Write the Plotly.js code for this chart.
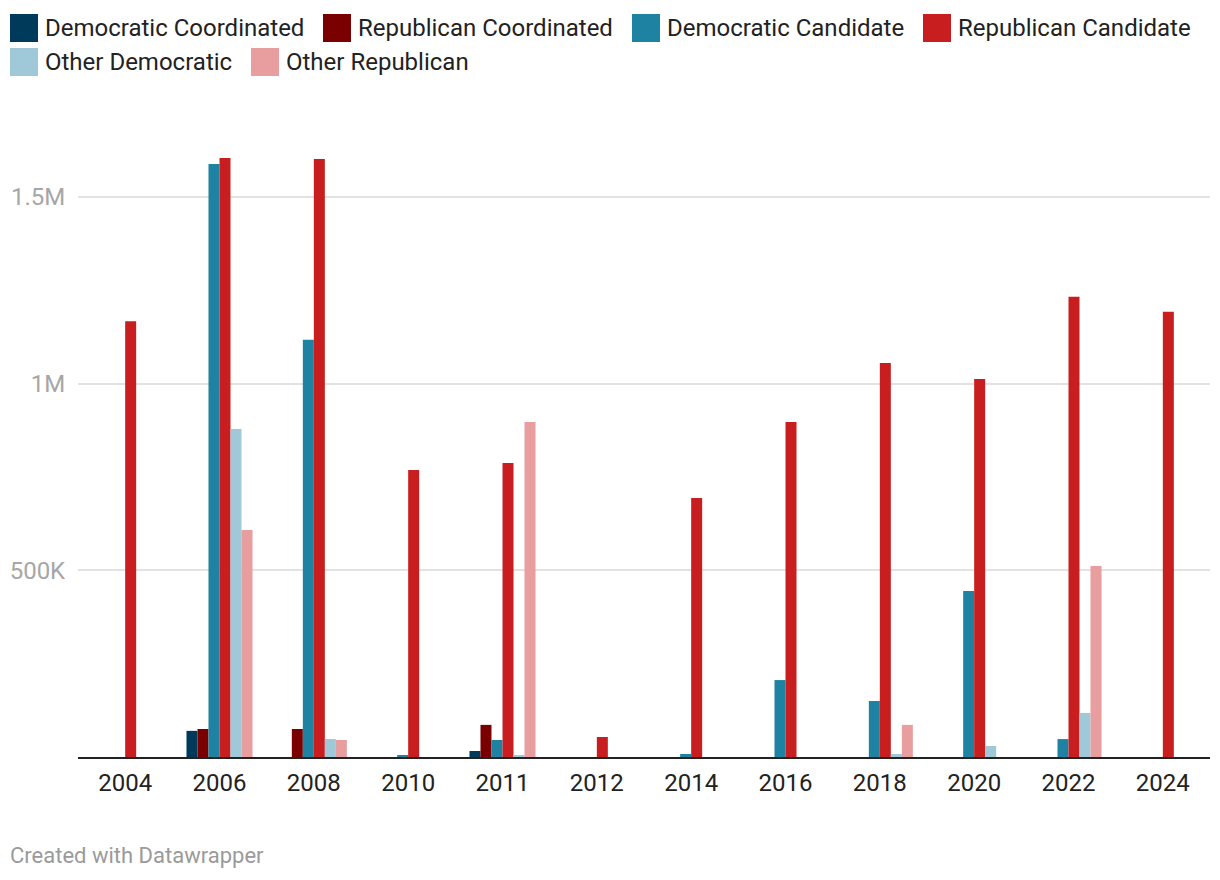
<!DOCTYPE html>
<html>
<head>
<meta charset="utf-8">
<script src="https://cdn.plot.ly/plotly-3.0.1.min.js"></script>
<style>
html,body{margin:0;padding:0;background:#fff;}
#chart{width:1220px;height:880px;}
</style>
</head>
<body>
<div id="chart"></div>
<script>
const years = ['2004','2006','2008','2010','2011','2012','2014','2016','2018','2020','2022','2024'];

const demCoordinated = [0, 70000, 0, 0, 16000, 0, 0, 0, 0, 0, 0, 0];
const repCoordinated = [0, 75000, 75000, 0, 86000, 0, 0, 0, 0, 0, 0, 0];
const demCandidate   = [0, 1588000, 1117000, 5000, 45500, 0, 8000, 206000, 150000, 444500, 48000, 0];
const repCandidate   = [1167000, 1604000, 1601000, 768500, 787000, 53600, 693600, 897000, 1055000, 1012000, 1232000, 1192000];
const otherDem       = [0, 878000, 48000, 0, 3000, 0, 0, 0, 8000, 29500, 118000, 0];
const otherRep       = [0, 608000, 45500, 0, 897000, 0, 0, 0, 86000, 0, 511500, 0];

const seriesNames = ['Democratic Coordinated','Republican Coordinated','Democratic Candidate','Republican Candidate','Other Democratic','Other Republican'];
const seriesColors = ['#003a5b','#7a0000','#1e83a3','#c91e1f','#9fc8d8','#e89d9e'];
const seriesValues = [demCoordinated, repCoordinated, demCandidate, repCandidate, otherDem, otherRep];

const yTickVals = [500000, 1000000, 1500000];
const yTickText = ['500K', '1M', '1.5M'];

const traces = seriesValues.map((vals, i) => ({
  type: 'bar',
  name: seriesNames[i],
  x: years,
  y: vals,
  marker: {color: seriesColors[i], line: {width: 0}},
  showlegend: false,
  hovertemplate: '%{x}: %{y:,}<extra>' + seriesNames[i] + '</extra>'
}));

// custom legend (swatches + text), positions in page pixels
const legendPos = [
  {x: 10, y: 14}, {x: 323, y: 14}, {x: 632, y: 14}, {x: 923, y: 14},
  {x: 10, y: 48}, {x: 251, y: 48}
];
const W = 1220, H = 880;
const PL = 78, PW = 1132, PB = 757, PH = 617;
const px = v => (v - PL) / PW;
const py = v => (PB - v) / PH;
const shapes = [];
const annotations = [];
legendPos.forEach((p, i) => {
  shapes.push({
    type: 'rect', xref: 'paper', yref: 'paper', layer: 'above',
    x0: px(p.x), x1: px(p.x + 28),
    y0: py(p.y + 28), y1: py(p.y),
    fillcolor: seriesColors[i], line: {width: 0}
  });
  annotations.push({
    xref: 'paper', yref: 'paper', showarrow: false,
    x: px(p.x + 33), y: py(p.y + 14),
    xanchor: 'left', yanchor: 'middle',
    text: seriesNames[i],
    font: {family: 'Roboto, sans-serif', size: 24, color: '#222222'}
  });
});
annotations.push({
  xref: 'paper', yref: 'paper', showarrow: false,
  x: px(8), y: py(855),
  xanchor: 'left', yanchor: 'middle',
  text: 'Created with Datawrapper',
  font: {family: 'Roboto, sans-serif', size: 22, color: '#9a9a9a'}
});

const layout = {
  width: W, height: H,
  margin: {l: PL, r: 10, t: 140, b: 123, pad: 0},
  paper_bgcolor: '#ffffff',
  plot_bgcolor: '#ffffff',
  barmode: 'group',
  bargap: 0.30,
  bargroupgap: 0,
  font: {family: 'Roboto, sans-serif', color: '#222222'},
  xaxis: {
    type: 'category',
    showgrid: false,
    showline: true, linecolor: '#222222', linewidth: 2,
    ticks: 'outside', ticklen: 3, tickcolor: 'rgba(0,0,0,0)',
    tickfont: {family: 'Roboto, sans-serif', size: 24, color: '#222222'},
    fixedrange: true
  },
  yaxis: {
    range: [0, 1652000],
    tickvals: yTickVals, ticktext: yTickText,
    showgrid: true, gridcolor: '#e2e2e2', gridwidth: 1.5,
    zeroline: false, showline: false,
    ticks: 'outside', ticklen: 7, tickcolor: 'rgba(0,0,0,0)',
    tickfont: {family: 'Roboto, sans-serif', size: 24, color: '#a6a6a6'},
    fixedrange: true
  },
  shapes: shapes,
  annotations: annotations,
  showlegend: false
};

Plotly.newPlot('chart', traces, layout, {displayModeBar: false});
</script>
</body>
</html>
